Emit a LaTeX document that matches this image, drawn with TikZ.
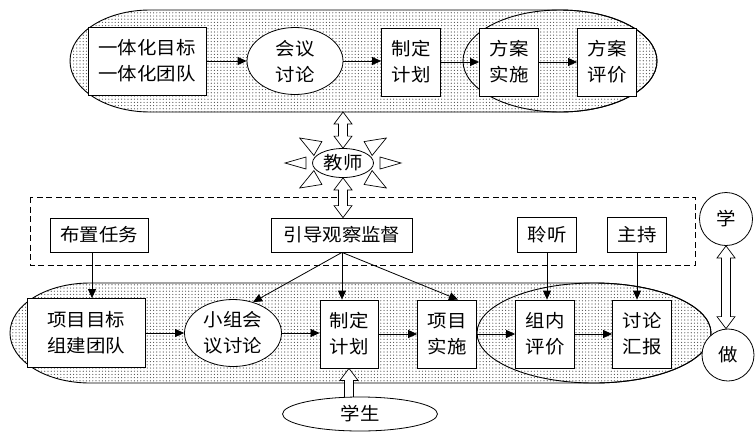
\documentclass[tikz,border=0pt]{standalone}
\usepackage{fontspec}
\setmainfont{Noto Sans CJK SC}[FakeStretch=1.08]
\usetikzlibrary{arrows.meta,shapes.geometric,patterns.meta,calc}
\pgfdeclarelayer{bg}\pgfdeclarelayer{mid}\pgfsetlayers{bg,mid,main}
\tikzset{
 cjk/.style={font=\fontsize{18pt}{26pt}\selectfont},
 stepbox/.style={draw, fill=white, line width=0.8pt, inner sep=0pt, align=center, cjk},
 ovalnode/.style={ellipse, draw, fill=white, line width=0.8pt, inner sep=0pt, align=center, cjk},
 arr/.style={-{Triangle[length=9pt,width=8pt]}, line width=0.8pt},
 dotfill/.style={pattern={Dots[distance=3.2pt,radius=0.6pt]}, pattern color=black!70},
 outline/.style={line width=0.9pt},
 harrow/.style={draw, fill=white, line width=0.7pt, line join=miter},
 ray/.style={draw, fill=white, line width=0.7pt, line join=miter},
 dashbox/.style={draw, line width=0.8pt, dash pattern=on 6pt off 3.5pt},
}
% vertical hollow arrow with heads at both ends (#1 top, #2 bottom)
\newcommand{\vdarrow}[2]{\draw[harrow] let \p1=(#1), \p2=(#2) in
 (\x1,\y1) -- (\x1+9pt,\y1-12pt) -- (\x1+4.5pt,\y1-12pt) -- (\x1+4.5pt,\y2+12pt) -- (\x1+9pt,\y2+12pt)
 -- (\x1,\y2) -- (\x1-9pt,\y2+12pt) -- (\x1-4.5pt,\y2+12pt) -- (\x1-4.5pt,\y1-12pt) -- (\x1-9pt,\y1-12pt) -- cycle;}
% vertical hollow arrow with head at the top only (#1 top, #2 bottom)
\newcommand{\vuarrow}[2]{\draw[harrow] let \p1=(#1), \p2=(#2) in
 (\x1,\y1) -- (\x1+9pt,\y1-12pt) -- (\x1+4.5pt,\y1-12pt) -- (\x1+4.5pt,\y2-4pt)
 -- (\x1-4.5pt,\y2-4pt) -- (\x1-4.5pt,\y1-12pt) -- (\x1-9pt,\y1-12pt) -- cycle;}
\begin{document}
\begin{tikzpicture}[x=1pt,y=-1pt]
\useasboundingbox (0,0) rectangle (755,432);

% ---------- regions ----------
\begin{pgfonlayer}{bg}
 \path[dotfill] (150,10) -- (560,10) arc[start angle=90,end angle=-90,x radius=97pt,y radius=51pt]
   -- (150,112) arc[start angle=270,end angle=90,x radius=80pt,y radius=51pt] -- cycle;
 \draw[outline] (150,10) -- (560,10) arc[start angle=90,end angle=-90,x radius=97pt,y radius=51pt]
   -- (150,112) arc[start angle=270,end angle=90,x radius=80pt,y radius=51pt] -- cycle;
 \draw[outline] (560,61) ellipse[x radius=97pt,y radius=51pt];

 \path[dotfill] (90,283) -- (594,283) arc[start angle=90,end angle=-90,x radius=117pt,y radius=50pt]
   -- (90,383) arc[start angle=270,end angle=90,x radius=80pt,y radius=50pt] -- cycle;
 \draw[outline] (90,283) -- (594,283) arc[start angle=90,end angle=-90,x radius=117pt,y radius=50pt]
   -- (90,383) arc[start angle=270,end angle=90,x radius=80pt,y radius=50pt] -- cycle;
 \draw[outline] (594,333) ellipse[x radius=117pt,y radius=50pt];

 \draw[dashbox] (30,197) rectangle (695,265);
\end{pgfonlayer}
\coordinate (topb) at (343,112);

% ---------- top row ----------
\node[stepbox, minimum width=118pt, minimum height=68pt] (b1) at (147,61) {一体化目标\\一体化团队};
\node[ovalnode, minimum width=96pt, minimum height=67pt] (e1) at (295,61) {会议\\讨论};
\node[stepbox, minimum width=59pt, minimum height=68pt] (b2) at (411,62) {制定\\计划};
\node[stepbox, minimum width=59pt, minimum height=68pt] (b3) at (509,62) {方案\\实施};
\node[stepbox, minimum width=59pt, minimum height=68pt] (b4) at (607,62) {方案\\评价};
\draw[arr] (b1.east) -- (e1.west);
\draw[arr] (e1.east) -- (e1.east -| b2.west);
\draw[arr] (b2.east) -- (b3.west);
\draw[arr] (b3.east) -- (b4.west);

% ---------- teacher ----------
\node[ovalnode, minimum width=61pt, minimum height=29pt] (t) at (343,163) {教师};
\begin{pgfonlayer}{mid}
 \foreach \a/\rt/\rb/\w in {0/58pt/37pt/6pt, 180/58pt/37pt/6pt, 30/50pt/29pt/8pt, 150/50pt/29pt/8pt, 210/50pt/29pt/8pt, 330/50pt/29pt/8pt}
   \draw[ray] ($(t)+(\a:\rt)$) -- ($(t)+(\a:\rb)+(\a+90:\w)$) -- ($(t)+(\a:\rb)+(\a-90:\w)$) -- cycle;
\end{pgfonlayer}

% ---------- dashed region boxes ----------
\node[stepbox, minimum width=98pt, minimum height=34pt] (d1) at (99,235) {布置任务};
\node[stepbox, minimum width=141pt, minimum height=34pt] (d2) at (342,235) {引导观察监督};
\node[stepbox, minimum width=59pt, minimum height=35pt] (d3) at (547,235) {聆听};
\node[stepbox, minimum width=59pt, minimum height=35pt] (d4) at (637,235) {主持};

\vdarrow{topb}{t.north}
\vdarrow{t.south}{t.south |- d2.north}

% ---------- bottom row ----------
\node[stepbox, minimum width=118pt, minimum height=69pt] (c1) at (86,333) {项目目标\\组建团队};
\node[ovalnode, minimum width=97pt, minimum height=67pt] (c2) at (233,333) {小组会\\议讨论};
\node[stepbox, minimum width=58pt, minimum height=68pt] (c3) at (349,334) {制定\\计划};
\node[stepbox, minimum width=59pt, minimum height=68pt] (c4) at (447,334) {项目\\实施};
\node[stepbox, minimum width=59pt, minimum height=68pt] (c5) at (545,334) {组内\\评价};
\node[stepbox, minimum width=59pt, minimum height=68pt] (c6) at (642,334) {讨论\\汇报};
\draw[arr] (c1.east |- c2.west) -- (c2.west);
\draw[arr] (c2.east) -- (c2.east -| c3.west);
\draw[arr] (c3.east) -- (c4.west);
\draw[arr] (c4.east) -- (c5.west);
\draw[arr] (c5.east) -- (c6.west);

\draw[arr] ([xshift=-7pt]d1.south) -- ([xshift=-7pt]d1.south |- c1.north);
\draw[arr] (d2.south) -- (c2.57);
\draw[arr] (d2.south) -- (d2.south |- c3.north);
\draw[arr] (d2.south) -- ([xshift=11pt]c4.north);
\draw[arr] (d3.south) -- (d3.south |- c5.north);
\draw[arr] (d4.south) -- (d4.south |- c6.north);

% ---------- learn / do ----------
\node[ovalnode, circle, minimum size=53pt] (s1) at (726,219) {学};
\node[ovalnode, circle, minimum size=52pt] (s2) at (728,355) {做};
\vdarrow{s1.south}{s1.south |- s2.north}

% ---------- students ----------
\node[ovalnode, minimum width=155pt, minimum height=34pt] (st) at (360,414) {学生};
\begin{pgfonlayer}{mid}
 \vuarrow{c3.south}{c3.south |- st.north}
\end{pgfonlayer}
\end{tikzpicture}
\end{document}
